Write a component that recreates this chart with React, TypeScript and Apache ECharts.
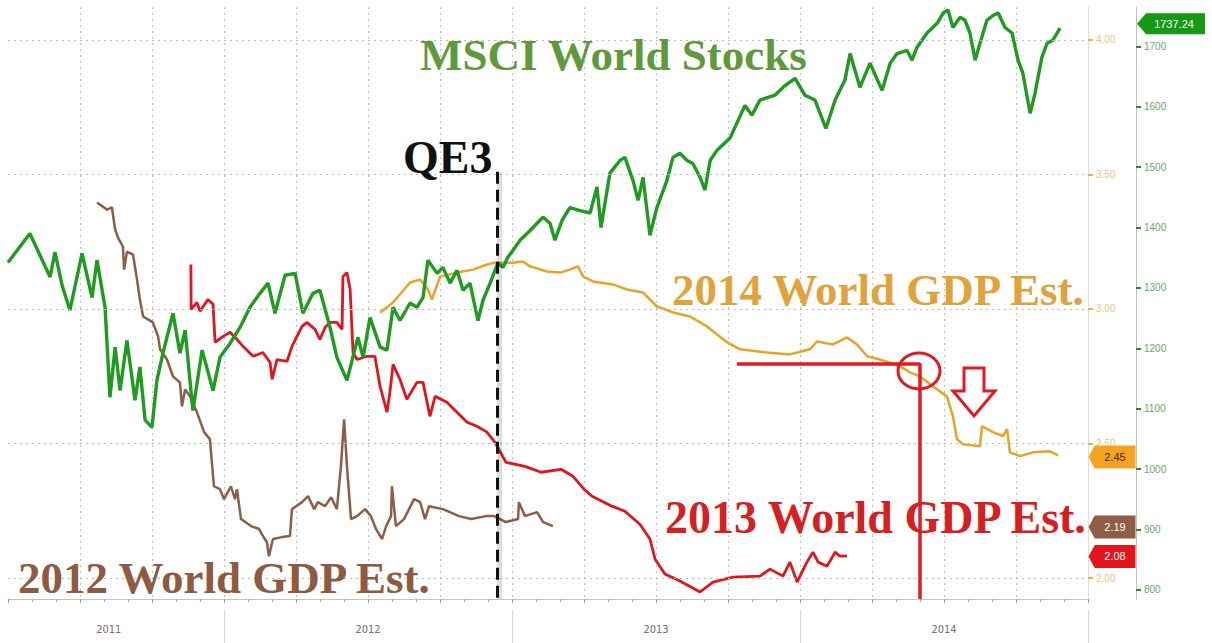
import React, { useEffect, useRef } from "react";
import * as echarts from "echarts";

// ---- axis ranges / ticks ----
const X_MIN = 2011.25;
const X_MAX = 2015;
const GDP_MIN = 1.922;
const GDP_MAX = 4.122;
const MSCI_MIN = 785;
const MSCI_MAX = 1765;
const GDP_TICKS = [2.0, 2.5, 3.0, 3.5, 4.0];
const MSCI_TICKS = [800, 900, 1000, 1100, 1200, 1300, 1400, 1500, 1600, 1700];
const YEAR_BOUNDS = [2012, 2013, 2014, 2015];
const YEAR_LABEL_POS = [2011.6, 2012.5, 2013.5, 2014.5];
const YEAR_LABELS = ["2011", "2012", "2013", "2014"];

// ---- last-value tags ----
const LAST_MSCI = 1737.24;
const LAST_2014 = 2.45;
const LAST_2013 = 2.08;
const LAST_2012 = 2.19;

// ---- annotations ----
const QE3_DATE = 2012.948;
const QE3_SHADOW_DATE = 2012.957;
const QE3_TOP = 3.51;
const MARK_FROM = 2013.781;
const MARK_DATE = 2014.417;
const MARK_LEVEL = 2.798;

// ---- series: [fractional year, value] ----
const MSCI_WORLD = [
  [2011.250,1342],[2011.326,1390],[2011.361,1354],[2011.396,1318],[2011.413,1359],[2011.438,1304],[2011.465,1263],[2011.507,1357],[2011.542,1284],[2011.559,1346],[2011.587,1268],[2011.604,1119],[2011.622,1202],[2011.639,1130],[2011.663,1213],[2011.691,1114],[2011.708,1169],[2011.726,1081],[2011.750,1069],[2011.767,1147],[2011.788,1192],[2011.823,1258],[2011.847,1192],[2011.865,1230],[2011.892,1097],[2011.924,1197],[2011.962,1130],[2011.986,1185],[2012.021,1208],[2012.056,1235],[2012.090,1268],[2012.125,1291],[2012.153,1308],[2012.177,1258],[2012.212,1321],[2012.247,1324],[2012.274,1258],[2012.309,1291],[2012.333,1296],[2012.368,1235],[2012.392,1185],[2012.427,1147],[2012.465,1218],[2012.483,1185],[2012.507,1251],[2012.542,1202],[2012.566,1197],[2012.587,1268],[2012.611,1246],[2012.646,1275],[2012.670,1268],[2012.691,1284],[2012.708,1346],[2012.740,1324],[2012.760,1334],[2012.785,1308],[2012.809,1329],[2012.830,1296],[2012.854,1308],[2012.882,1246],[2012.899,1279],[2012.924,1308],[2012.951,1341],[2012.969,1334],[2012.986,1351],[2013.003,1362],[2013.028,1379],[2013.063,1395],[2013.087,1407],[2013.108,1417],[2013.132,1407],[2013.149,1379],[2013.174,1412],[2013.201,1433],[2013.236,1428],[2013.271,1424],[2013.295,1467],[2013.309,1400],[2013.340,1490],[2013.375,1511],[2013.392,1516],[2013.420,1478],[2013.438,1445],[2013.455,1483],[2013.479,1387],[2013.503,1433],[2013.538,1478],[2013.559,1516],[2013.583,1523],[2013.608,1511],[2013.628,1506],[2013.653,1483],[2013.670,1462],[2013.688,1511],[2013.712,1528],[2013.757,1548],[2013.809,1602],[2013.833,1586],[2013.861,1611],[2013.913,1619],[2013.948,1635],[2013.983,1647],[2014.017,1619],[2014.052,1611],[2014.090,1564],[2014.122,1611],[2014.156,1644],[2014.174,1688],[2014.208,1632],[2014.243,1672],[2014.285,1627],[2014.313,1672],[2014.337,1688],[2014.372,1693],[2014.389,1677],[2014.406,1698],[2014.441,1722],[2014.476,1738],[2014.497,1755],[2014.514,1760],[2014.531,1731],[2014.556,1748],[2014.573,1743],[2014.590,1722],[2014.608,1677],[2014.625,1705],[2014.649,1743],[2014.670,1751],[2014.688,1755],[2014.712,1731],[2014.736,1722],[2014.757,1677],[2014.774,1655],[2014.799,1589],[2014.816,1622],[2014.840,1682],[2014.858,1705],[2014.878,1710],[2014.903,1730]
];

const GDP_2014 = [
  [2012.542,2.987],[2012.587,3.024],[2012.646,3.098],[2012.681,3.109],[2012.708,3.072],[2012.722,3.035],[2012.750,3.120],[2012.809,3.135],[2012.865,3.146],[2012.913,3.165],[2012.941,3.172],[2013.003,3.172],[2013.038,3.176],[2013.063,3.158],[2013.122,3.139],[2013.167,3.135],[2013.201,3.146],[2013.229,3.158],[2013.247,3.120],[2013.281,3.102],[2013.351,3.091],[2013.399,3.072],[2013.455,3.061],[2013.503,3.009],[2013.559,2.987],[2013.618,2.972],[2013.677,2.935],[2013.712,2.905],[2013.747,2.876],[2013.792,2.850],[2013.885,2.838],[2013.965,2.831],[2014.035,2.850],[2014.059,2.879],[2014.115,2.868],[2014.163,2.894],[2014.198,2.868],[2014.233,2.824],[2014.278,2.812],[2014.347,2.787],[2014.382,2.764],[2014.417,2.749],[2014.462,2.712],[2014.510,2.675],[2014.531,2.601],[2014.545,2.516],[2014.566,2.497],[2014.625,2.490],[2014.632,2.564],[2014.670,2.542],[2014.705,2.527],[2014.719,2.553],[2014.729,2.467],[2014.764,2.453],[2014.809,2.467],[2014.868,2.471],[2014.896,2.456]
];

const GDP_2013 = [
  [2011.885,3.165],[2011.886,2.998],[2011.906,3.024],[2011.917,2.991],[2011.944,3.035],[2011.962,3.017],[2011.969,2.876],[2011.997,2.898],[2012.021,2.913],[2012.045,2.887],[2012.066,2.861],[2012.101,2.824],[2012.135,2.838],[2012.160,2.801],[2012.167,2.738],[2012.184,2.812],[2012.219,2.805],[2012.236,2.861],[2012.271,2.935],[2012.288,2.950],[2012.316,2.924],[2012.333,2.887],[2012.351,2.931],[2012.368,2.950],[2012.392,2.950],[2012.410,2.924],[2012.413,3.120],[2012.427,3.135],[2012.438,3.072],[2012.448,2.838],[2012.462,2.812],[2012.497,2.824],[2012.524,2.824],[2012.542,2.712],[2012.566,2.616],[2012.576,2.690],[2012.587,2.794],[2012.611,2.738],[2012.635,2.664],[2012.670,2.727],[2012.691,2.727],[2012.715,2.601],[2012.733,2.675],[2012.774,2.653],[2012.809,2.616],[2012.844,2.579],[2012.878,2.564],[2012.913,2.542],[2012.941,2.504],[2012.979,2.430],[2013.045,2.415],[2013.101,2.393],[2013.170,2.404],[2013.212,2.378],[2013.250,2.330],[2013.278,2.304],[2013.347,2.267],[2013.392,2.248],[2013.444,2.200],[2013.479,2.145],[2013.497,2.070],[2013.531,2.015],[2013.583,1.989],[2013.653,1.948],[2013.698,1.985],[2013.767,2.003],[2013.861,2.007],[2013.896,2.033],[2013.941,2.007],[2013.965,2.059],[2013.990,1.985],[2014.000,2.007],[2014.024,2.059],[2014.045,2.096],[2014.063,2.059],[2014.094,2.044],[2014.122,2.096],[2014.139,2.081],[2014.163,2.081]
];

const GDP_2012 = [
  [2011.559,3.395],[2011.569,3.388],[2011.594,3.369],[2011.611,3.377],[2011.622,3.295],[2011.632,3.265],[2011.649,3.232],[2011.653,3.146],[2011.663,3.213],[2011.684,3.202],[2011.698,3.109],[2011.708,3.035],[2011.719,2.972],[2011.736,2.961],[2011.753,2.950],[2011.771,2.898],[2011.778,2.850],[2011.802,2.812],[2011.823,2.749],[2011.847,2.727],[2011.854,2.638],[2011.865,2.701],[2011.882,2.675],[2011.906,2.616],[2011.931,2.542],[2011.951,2.516],[2011.965,2.341],[2011.986,2.330],[2012.000,2.293],[2012.024,2.341],[2012.038,2.293],[2012.045,2.330],[2012.059,2.219],[2012.094,2.193],[2012.122,2.182],[2012.135,2.156],[2012.149,2.133],[2012.156,2.081],[2012.170,2.145],[2012.201,2.152],[2012.229,2.156],[2012.236,2.256],[2012.271,2.282],[2012.292,2.304],[2012.313,2.256],[2012.326,2.282],[2012.351,2.267],[2012.372,2.300],[2012.392,2.256],[2012.406,2.415],[2012.417,2.590],[2012.427,2.415],[2012.441,2.219],[2012.462,2.230],[2012.490,2.256],[2012.510,2.230],[2012.528,2.182],[2012.549,2.145],[2012.563,2.193],[2012.580,2.230],[2012.583,2.341],[2012.597,2.193],[2012.625,2.219],[2012.660,2.293],[2012.681,2.282],[2012.698,2.219],[2012.712,2.267],[2012.760,2.256],[2012.816,2.230],[2012.858,2.219],[2012.910,2.230],[2012.938,2.230],[2012.979,2.208],[2013.021,2.219],[2013.024,2.282],[2013.045,2.230],[2013.087,2.245],[2013.108,2.208],[2013.142,2.193]
];

const C_GREEN = "#1f9b1f";
const C_ORANGE = "#e9a325";
const C_RED = "#e3141c";
const C_BROWN = "#8e5e44";
const SERIF = '"Liberation Serif", "Times New Roman", serif';
const TAG_PATH = "path://M0,10 L8,0 L60,0 L60,20 L8,20 Z";

function tag(x: number, y: number, text: string, bg: string, fg: string, w: number, h: number, dx: number) {
  return {
    data: [{ coord: [x, y], value: y }],
    symbol: TAG_PATH,
    symbolSize: [w, h],
    symbolKeepAspect: false,
    symbolOffset: [dx, 0],
    silent: true,
    itemStyle: { color: bg },
    label: {
      show: true,
      position: "inside",
      offset: [3, 0],
      formatter: () => text,
      color: fg,
      fontSize: 11,
      fontFamily: '"Liberation Sans", sans-serif',
    },
  };
}

function hiddenSeries(name: string, z: number, markLine: any) {
  return {
    name,
    type: "line",
    yAxisIndex: 0,
    z,
    data: [[X_MIN, GDP_MIN]],
    showSymbol: false,
    lineStyle: { opacity: 0 },
    silent: true,
    markLine: { silent: true, symbol: ["none", "none"], label: { show: false }, ...markLine },
  };
}

export default function App() {
  const ref = useRef<HTMLDivElement>(null);
  useEffect(() => {
    document.body.style.margin = "0";
    if (!ref.current) return;
    const chart = echarts.init(ref.current, null, { renderer: "svg" });
    const option: any = {
      animation: false,
      backgroundColor: "#ffffff",
      grid: { left: 8, right: 124, top: 7, bottom: 44, containLabel: false, outerBoundsMode: "none" },
      xAxis: [
        {
          type: "value",
          min: X_MIN,
          max: X_MAX,
          interval: 0.25,
          position: "bottom",
          axisLine: { show: true, lineStyle: { color: "#c4c4c4", width: 1 } },
          axisTick: { show: true, length: 4, lineStyle: { color: "#9a9a9a" } },
          minorTick: { show: true, splitNumber: 3, length: 3, lineStyle: { color: "#a8a8a8" } },
          axisLabel: { show: false },
          splitLine: { show: true, showMinLine: false, showMaxLine: false, lineStyle: { type: [2, 4], color: "#bdbdbd", width: 1 } },
        },
        {
          type: "value",
          min: X_MIN,
          max: X_MAX,
          position: "bottom",
          offset: 11,
          axisLine: { show: false },
          axisTick: { show: true, customValues: YEAR_BOUNDS, length: 33, lineStyle: { color: "#d6d6d6" } },
          axisLabel: {
            show: true,
            customValues: YEAR_LABEL_POS,
            formatter: (v: number) => YEAR_LABELS[YEAR_LABEL_POS.indexOf(v)] ?? "",
            color: "#7e6a6a",
            fontSize: 11,
            fontFamily: '"DejaVu Sans Condensed", "DejaVu Sans", sans-serif',
            margin: 14,
          },
          splitLine: { show: false },
        },
      ],
      yAxis: [
        {
          type: "value",
          position: "right",
          min: GDP_MIN,
          max: GDP_MAX,
          axisLine: { show: true, lineStyle: { color: "#e6dccd", width: 1 } },
          axisTick: { show: true, customValues: GDP_TICKS, length: 5, lineStyle: { color: "#f0b040", width: 2 } },
          axisLabel: {
            show: true,
            customValues: GDP_TICKS,
            formatter: (v: number) => v.toFixed(2),
            color: "#f0c27c",
            fontSize: 10,
            fontFamily: '"Liberation Sans", sans-serif',
            margin: 8,
          },
          splitLine: { show: false },
        },
        {
          type: "value",
          position: "right",
          offset: 48,
          min: MSCI_MIN,
          max: MSCI_MAX,
          axisLine: { show: true, lineStyle: { color: "#b9c9b9", width: 1 } },
          axisTick: { show: true, customValues: MSCI_TICKS, length: 5, lineStyle: { color: "#2f8a2f", width: 2 } },
          axisLabel: {
            show: true,
            customValues: MSCI_TICKS,
            formatter: (v: number) => String(v),
            color: "#6aa86a",
            fontSize: 10,
            fontFamily: '"Liberation Sans", sans-serif',
            margin: 8,
          },
          splitLine: { show: false },
        },
      ],
      series: [
        hiddenSeries("grid", 1, {
          lineStyle: { type: [2, 4], color: "#bdbdbd", width: 1 },
          data: GDP_TICKS.map((v) => ({ yAxis: v })),
        }),
        hiddenSeries("qe3 shadow", 1, {
          lineStyle: { type: "solid", color: "rgba(0,0,0,0.13)", width: 5 },
          data: [[{ coord: [QE3_SHADOW_DATE, QE3_TOP] }, { coord: [QE3_SHADOW_DATE, GDP_MIN] }]],
        }),
        {
          name: "2012 World GDP Est.",
          type: "line",
          yAxisIndex: 0,
          data: GDP_2012,
          showSymbol: false,
          lineStyle: { color: C_BROWN, width: 2.5 },
          markPoint: tag(X_MAX, LAST_2012, LAST_2012.toFixed(2), C_BROWN, "#ffffff", 47, 23, 24),
        },
        {
          name: "2013 World GDP Est.",
          type: "line",
          yAxisIndex: 0,
          data: GDP_2013,
          showSymbol: false,
          lineStyle: { color: C_RED, width: 2.8 },
          markPoint: tag(X_MAX, LAST_2013, LAST_2013.toFixed(2), C_RED, "#ffffff", 47, 23, 24),
        },
        {
          name: "2014 World GDP Est.",
          type: "line",
          yAxisIndex: 0,
          data: GDP_2014,
          showSymbol: false,
          lineStyle: { color: C_ORANGE, width: 2.5 },
          markPoint: tag(X_MAX, LAST_2014, LAST_2014.toFixed(2), "#f2a31f", "#4a2a00", 47, 23, 24),
        },
        {
          name: "MSCI World Stocks",
          type: "line",
          yAxisIndex: 1,
          data: MSCI_WORLD,
          showSymbol: false,
          lineStyle: { color: C_GREEN, width: 3.4 },
          markPoint: tag(X_MAX, LAST_MSCI, LAST_MSCI.toFixed(2), "#169a16", "#ffffff", 68, 21, 83),
        },
        hiddenSeries("qe3", 5, {
          lineStyle: { type: "dashed", color: "#111111", width: 3 },
          data: [[{ coord: [QE3_DATE, QE3_TOP] }, { coord: [QE3_DATE, GDP_MIN] }]],
        }),
        hiddenSeries("annotations", 5, {
          lineStyle: { type: "solid", color: "#e11b22", width: 3.5 },
          data: [
            [{ coord: [MARK_FROM, MARK_LEVEL] }, { coord: [MARK_DATE, MARK_LEVEL] }],
            [{ coord: [MARK_DATE, MARK_LEVEL] }, { coord: [MARK_DATE, GDP_MIN] }],
          ],
        }),
      ],
      graphic: [
        { type: "ellipse", z: 10, shape: { cx: 919, cy: 371, rx: 21, ry: 18 }, style: { fill: "none", stroke: "#e11b22", lineWidth: 3 } },
        {
          type: "polygon",
          z: 10,
          shape: { points: [[964, 368], [984, 368], [984, 391], [995, 391], [974, 416], [953, 391], [964, 391]] },
          style: { fill: "#ffffff", stroke: "#e11b22", lineWidth: 3 },
        },
        { type: "text", z: 10, x: 420, y: 55, style: { text: "MSCI World Stocks", font: `bold 45px ${SERIF}`, fill: "#5f9a3a", textVerticalAlign: "middle", verticalAlign: "middle" } },
        { type: "text", z: 10, x: 403, y: 157, style: { text: "QE3", font: `bold 46px ${SERIF}`, fill: "#111111", textVerticalAlign: "middle", verticalAlign: "middle" } },
        { type: "text", z: 10, x: 672, y: 290, style: { text: "2014 World GDP Est.", font: `bold 45px ${SERIF}`, fill: "#e2a23a", textVerticalAlign: "middle", verticalAlign: "middle" } },
        { type: "text", z: 10, x: 665, y: 517, style: { text: "2013 World GDP Est.", font: `bold 46px ${SERIF}`, fill: "#d61f22", textVerticalAlign: "middle", verticalAlign: "middle" } },
        { type: "text", z: 10, x: 18, y: 578, style: { text: "2012 World GDP Est.", font: `bold 45px ${SERIF}`, fill: "#8e5a42", textVerticalAlign: "middle", verticalAlign: "middle" } },
      ],
    };
    chart.setOption(option);
    return () => chart.dispose();
  }, []);
  return <div ref={ref} style={{ width: 1212, height: 643 }} />;
}
